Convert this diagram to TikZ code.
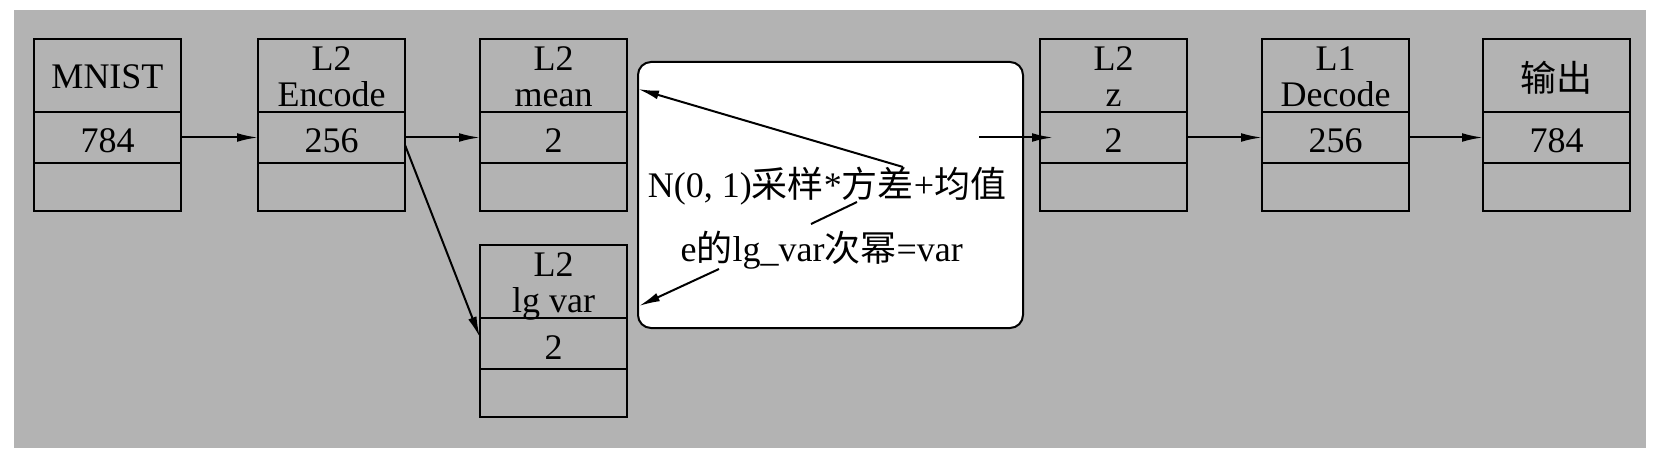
\documentclass[tikz,border=0pt]{standalone}
\usepackage{fontspec}
\setmainfont{Liberation Serif}
\newfontfamily\cjk{Noto Sans CJK SC}
\usetikzlibrary{arrows.meta,calc}
\definecolor{bggray}{RGB}{179,179,179}
\newcommand\layerbox[5]{%
  \node[hdr] (#1h) at (#2,#3) {\raisebox{-3pt}[\height][\depth]{\begin{tabular}{@{}c@{}}#4\end{tabular}}};
  \node[mid] (#1m) at (#1h.south west) {#5};
  \node[bot] (#1b) at (#1m.south west) {};
}
\begin{document}
\begin{tikzpicture}[x=0.5pt,y=-0.5pt,
  every node/.style={font=\fontsize{18}{18}\selectfont},
  row/.style={draw,line width=1pt,outer sep=0pt,minimum width=73.5pt,inner sep=0pt,anchor=north west},
  hdr/.style={row,minimum height=36.5pt},
  mid/.style={row,minimum height=25.5pt,text depth=0pt,text height=15.5pt},
  bot/.style={row,minimum height=24pt},
  arr/.style={-{Latex[length=10.5pt,width=4.4pt]},line width=1pt},
  calcbox/.style={draw,fill=white,rounded corners=6.5pt,line width=1pt,outer sep=0pt,minimum width=192.5pt,minimum height=133pt,anchor=north west,inner sep=0pt},
  lbl/.style={inner sep=0pt,anchor=base}
]
\useasboundingbox (0,0) rectangle (1660,460);
\fill[bggray] (14,10) rectangle (1646,448);

\layerbox{in}{34}{39}{MNIST}{784}
\layerbox{enc}{258}{39}{L2\\Encode}{256}
\layerbox{mean}{480}{39}{L2\\mean}{2}
\layerbox{lg}{480}{245}{L2\\lg var}{2}
\layerbox{z}{1040}{39}{L2\\z}{2}
\layerbox{dec}{1262}{39}{L1\\Decode}{256}
\layerbox{out}{1483}{39}{{\cjk 输出}}{784}

\node[calcbox] (calc) at (638,62) {};
\node[lbl] (t1) at (827,198) {N(0, 1){\cjk 采样}*{\cjk 方差}+{\cjk 均值}};
\node[lbl] (t2) at (821.7,261.7) {e{\cjk 的}lg\_var{\cjk 次幂}=var};

\draw[arr] (inm) -- (encm);
\draw[arr] (encm) -- (meanm);
\draw[arr] ([yshift=-3.75pt]encm.east) -- ([yshift=3pt]lgm.west);
\draw[arr] (zm) -- (decm);
\draw[arr] (decm) -- (outm);

\coordinate (m1) at (903,167);
\coordinate (m1e) at (638,89);
\draw[arr] (m1) -- (m1e);
\coordinate (k1) at (857,202);
\coordinate (k2) at (811,224);
\draw[line width=1pt] (k1) -- (k2);
\coordinate (v1) at (719,269);
\coordinate (v1e) at (639,306);
\draw[arr] (v1) -- (v1e);
\coordinate (zs) at ([xshift=-30.5pt]zm.west);
\draw[arr] (zs) -- ([xshift=6.5pt]zm.west);
\end{tikzpicture}
\end{document}
